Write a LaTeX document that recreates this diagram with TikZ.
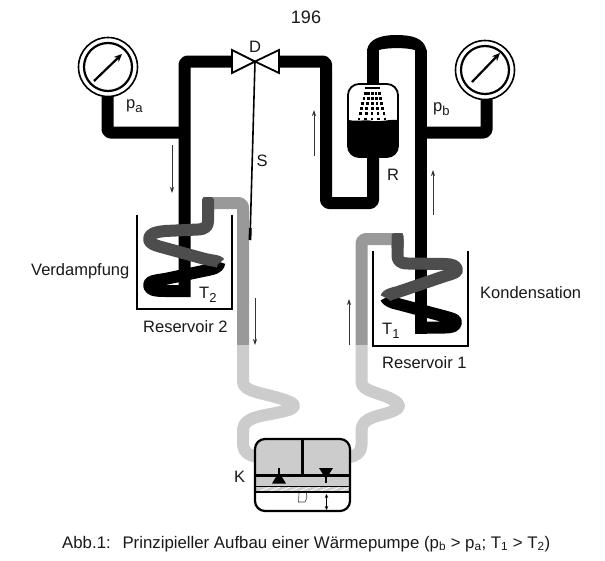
\documentclass[tikz,border=0pt]{standalone}
\usepackage{fontspec}
\setmainfont{Liberation Sans}
\usetikzlibrary{arrows.meta}
\newcommand{\lowered}[1]{\raisebox{-0.25em}{\fontsize{13}{14}\selectfont #1}}
\definecolor{pipedark}{HTML}{4D4D4D}
\definecolor{pipemid}{HTML}{999999}
\definecolor{pipelight}{HTML}{CCCCCC}
\tikzset{
  x=1pt,y=-1pt,
  pipe/.style={line width=12pt,line join=round,line cap=butt},
  blackpipe/.style={pipe,draw=black},
  darkpipe/.style={pipe,draw=pipedark},
  midpipe/.style={pipe,draw=pipemid},
  lightpipe/.style={pipe,draw=pipelight},
  flow/.style={draw=black!80,line width=0.8pt,-{Stealth[length=6pt,width=4pt]}},
  vessel/.style={draw=black,line width=1.6pt,line join=miter},
  lbl/.style={inner sep=0pt,font=\fontsize{16.5}{18}\selectfont,text=black!90},
  caption/.style={inner sep=0pt,font=\fontsize{16.8}{18}\selectfont,text=black!90},
  gaugeouter/.style={draw=black,line width=1.6pt,fill=white},
  gaugeinner/.style={draw=black,line width=2.2pt,fill=white},
  needle/.style={draw=black,line width=2.2pt,-{Stealth[length=8pt,width=7pt]}},
  valve/.style={draw=black,line width=1.8pt,fill=white,line join=miter},
}
\begin{document}
\begin{tikzpicture}
\useasboundingbox (0,0) rectangle (605,560);
\fill[white] (0,0) rectangle (605,560);
% named coordinates
\coordinate (valveC) at (255,61.5);
\coordinate (gaugeL) at (108,67);
\coordinate (gaugeR) at (485,70);
\coordinate (stemEnd) at (250,240);

% black pipes
\draw[blackpipe,rounded corners=3pt] (107.5,95) -- (107.5,132.5) -- (184.5,132.5);
\draw[blackpipe,rounded corners=3pt] (184.5,297) -- (184.5,61.5) -- (235,61.5);
\draw[blackpipe,rounded corners=3pt] (275,61.5) -- (326,61.5) -- (326,203) -- (373,203) -- (373,150);
\draw[blackpipe] (373,90) -- (373,49.5);
\fill[black] (367,50) .. controls (369,38) and (383,35) .. (396,35) .. controls (412,35) and (424,38) .. (426.5,50) -- (414.5,50) .. controls (408,47.5) and (386,47.5) .. (379,50) -- cycle;
\draw[blackpipe] (420.5,49.5) -- (420.5,333.5);
\draw[blackpipe,rounded corners=3pt] (420.5,132.5) -- (486.5,132.5) -- (486.5,95);

% black coil parts
\draw[blackpipe] (179,291) -- (165,291) .. controls (155,291) and (149,290) .. (149,285) .. controls (149,281) and (155,280.5) .. (165,279) -- (203,271) .. controls (213,269) and (219.5,268) .. (219.5,262);
\draw[blackpipe] (415,327.5) -- (445,327.5) .. controls (452,327.5) and (456,326) .. (456,322) .. controls (456,319.5) and (452,318.5) .. (445,316.5) -- (398,304) .. controls (392,303) and (386,300) .. (386,297.5);

% left coil grey
\draw[darkpipe] (219.5,263) .. controls (219.5,261) and (214,261) .. (205,259) -- (165,248) .. controls (153,245) and (149,243) .. (149,239) .. controls (149,234) and (155,232) .. (165,231) -- (198,229.5) .. controls (206,229) and (208,226) .. (208,221) -- (208,203);
\draw[midpipe,rounded corners=4pt] (203,203) -- (243,203) -- (243,345);
\fill[pipedark,rounded corners=3pt] (202,197) -- (214,197) -- (214,215) -- (202,215) -- cycle;
% right coil grey
\draw[darkpipe] (386,298) .. controls (386,295) and (392,293.5) .. (398,292) -- (445,276) .. controls (454,273.5) and (457,272) .. (457,270) .. controls (457,266) and (452,264) .. (445,264) -- (408,263.5) .. controls (399,263.5) and (397.5,260) .. (397.5,255) -- (397.5,239);
\draw[midpipe,rounded corners=4pt] (403,239) -- (361.5,239) -- (361.5,345);
\fill[pipedark,rounded corners=3pt] (391.5,233) -- (403.5,233) -- (403.5,250) -- (391.5,250) -- cycle;

% light pipes
\draw[lightpipe] (243,345) -- (243,382) .. controls (243,392) and (265,393) .. (285,400) .. controls (297,404) and (297,408) .. (285,411) .. controls (265,416) and (243,416) .. (243,430) -- (243,445) .. controls (243,452) and (250,456) .. (257,457);
\draw[lightpipe] (361.5,345) -- (361.5,382) .. controls (361.5,392) and (383,393) .. (393,400) .. controls (401,404) and (401,408) .. (393,411) .. controls (383,416) and (361.5,416) .. (361.5,430) -- (361.5,445) .. controls (361.5,452) and (356,457) .. (348,457);

% reservoirs
\draw[vessel] (137,215) -- (137,309) -- (232,309) -- (232,215);
\draw[vessel] (373,251) -- (373,346) -- (468,346) -- (468,251);

% valve
\draw[valve] (255,61.5) -- (232,50) -- (232,73) -- cycle;
\draw[valve] (255,61.5) -- (279,50) -- (279,73) -- cycle;
% stem
\draw[draw=black,line width=1.6pt] (valveC) -- (stemEnd);
\draw[draw=black,line width=2.8pt] (250.3,228) -- (stemEnd);

% gauges
\foreach \g/\ax/\ay/\bx/\by in {gaugeL/94/81/122/54,gaugeR/472/82/500/53}{
  \draw[gaugeouter] (\g) circle[radius=29.5pt];
  \draw[gaugeinner] (\g) circle[radius=24pt];
  \draw[needle] (\ax,\ay) -- (\bx,\by);
}

% receiver
\begin{scope}
\path[clip,rounded corners=11pt] (348,84) rectangle (398,157);
\fill[white] (348,84) rectangle (398,157);
\fill[black] (348,120) .. controls (360,122) and (366,119) .. (373,121) .. controls (382,122) and (390,119) .. (398,120) -- (398,157) -- (348,157) -- cycle;
\foreach \i in {0,...,4}{
  \foreach \j in {0,...,6}{
    \pgfmathsetmacro{\tx}{366.5+\i*3}
    \pgfmathsetmacro{\bx}{359+\i*6.5}
    \pgfmathsetmacro{\fy}{\j/6}
    \fill[black] ({\tx+(\bx-\tx)*\fy-1.4},{88+31*\fy-1.4}) rectangle ++(2.8,2.8);
  }
}
\end{scope}
\draw[draw=black,line width=1.8pt,rounded corners=11pt] (348,84) rectangle (398,157);

% compressor
\begin{scope}
\path[clip,rounded corners=10pt] (255,439) rectangle (350,511);
\fill[white] (255,439) rectangle (350,511);
\fill[pipelight] (255,439) rectangle (350,492);
\foreach \k in {0,...,9}{
  \draw[white,line width=0.8pt] ({258+\k*10},492) -- ({270+\k*10},487);
}
\end{scope}
\draw[draw=black,line width=1.6pt] (255,486.5) -- (350,486.5);
\draw[draw=black,line width=1.2pt] (255,492) -- (350,492);
\draw[draw=black,line width=2.2pt,rounded corners=10pt] (255,439) rectangle (350,511);
\draw[draw=black,line width=2.8pt] (302.5,439) -- (302.5,475);
\draw[draw=black,line width=3pt] (255,475) -- (350,475);
\draw[draw=black,line width=2.2pt] (279,468) -- (279,478);
\fill[black] (279,472) -- (286,483.5) -- (272,483.5) -- cycle;
\fill[black] (319,468) -- (333,468) -- (326,479) -- cycle;
\draw[draw=black,line width=2.2pt] (326,472) -- (326,483);
\draw[draw=black!75,line width=0.6pt] (299,493) -- (298.5,502) -- (305,502) .. controls (307,500) and (307,497) .. (306.5,493);
\draw[draw=black,line width=0.8pt,{Stealth[length=4pt,width=3.5pt]}-{Stealth[length=4pt,width=3.5pt]}] (326.5,494) -- (326.5,510);

% flow arrows
\draw[flow] (172,145) -- (172,193);
\draw[flow] (314,156) -- (314,110);
\draw[flow] (433,215) -- (433,170);
\draw[flow] (255,298) -- (255,345);
\draw[flow] (349,345) -- (349,299);

% labels
\node[lbl,font=\fontsize{18}{20}\selectfont] (pagenum) at (306,17) {196};
\node[lbl] (lblD) at (255,47) {D};
\node[lbl] (lblS) at (262,161) {S};
\node[lbl] (lblR) at (393,175) {R};
\node[lbl,anchor=base west] (lblpa) at (126,108.5) {p\lowered{a}};
\node[lbl,anchor=base west] (lblpb) at (433,111) {p\lowered{b}};
\node[lbl,anchor=base west] (lblT2) at (199,298) {T\lowered{2}};
\node[lbl,anchor=base west] (lblT1) at (382,334) {T\lowered{1}};
\node[lbl,anchor=base west] (verd) at (31,275) {Verdampfung};
\node[lbl,anchor=base west] (kond) at (480,298) {Kondensation};
\node[lbl,anchor=base west] (res2) at (143,332) {Reservoir 2};
\node[lbl,anchor=base west] (res1) at (382,368) {Reservoir 1};
\node[lbl,anchor=base west] (lblK) at (234,482) {K};
\node[caption,anchor=base west] (cap) at (62,548) {Abb.1:\hspace{0.7em}Prinzipieller Aufbau einer Wärmepumpe (p\textsubscript{b} > p\textsubscript{a}; T\textsubscript{1} > T\textsubscript{2})};
\end{tikzpicture}
\end{document}
